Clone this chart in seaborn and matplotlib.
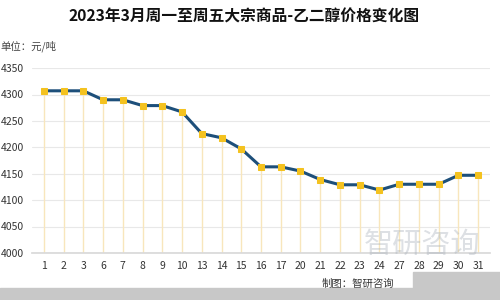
import matplotlib
matplotlib.use("Agg")
import matplotlib.pyplot as plt
import seaborn as sns
import pandas as pd
import numpy as np
from matplotlib.patches import Rectangle

days = ["1", "2", "3", "6", "7", "8", "9", "10", "13", "14", "15", "16", "17",
        "20", "21", "22", "23", "24", "27", "28", "29", "30", "31"]
prices = [4307, 4307, 4307, 4290, 4290, 4279, 4279, 4267, 4226, 4218, 4197,
          4163, 4163, 4155, 4139, 4129, 4129, 4119, 4130, 4130, 4130, 4147, 4147]
yticks = [4000, 4050, 4100, 4150, 4200, 4250, 4300, 4350]

sns.set_theme(style="white")
plt.rcParams['font.family'] = ['Noto Sans CJK SC', 'DejaVu Sans']

df = pd.DataFrame({"idx": np.arange(len(days)), "day": days, "price": prices})

fig = plt.figure(figsize=(5, 3), dpi=100)
ax = fig.add_axes([0.064, 0.157, 0.916, 0.616])

ax.vlines(df["idx"], yticks[0], df["price"], color="#f8e6bc", lw=1.0, zorder=1)
sns.lineplot(data=df, x="idx", y="price", ax=ax, color="#1d4f7a", lw=2.2,
             marker="s", markersize=5, markerfacecolor="#f4c21f",
             markeredgecolor="#f4c21f", zorder=3)

ax.set_ylim(yticks[0], yticks[-1])
ax.set_xlim(-0.6, len(days) - 1 + 0.6)
ax.set_yticks(yticks)
ax.set_yticklabels([str(v) for v in yticks], fontsize=7.5, color="#333333")
ax.set_xticks(df["idx"])
ax.set_xticklabels(days, fontsize=7.5, color="#333333")
ax.tick_params(axis="both", length=0, pad=6)
ax.grid(axis="y", color="#e8e8e8", lw=0.8)
ax.set_axisbelow(True)
for s in ["top", "right", "left"]:
    ax.spines[s].set_visible(False)
ax.spines["bottom"].set_color("#d9d9d9")
ax.set_xlabel("")
ax.set_ylabel("")

fig.text(0.488, 0.945, "2023年3月周一至周五大宗商品-乙二醇价格变化图", ha="center",
         va="center", fontsize=11.3, fontweight="bold", color="#111111")
fig.text(0.0, 0.847, "单位：元/吨", ha="left", va="center", fontsize=7.5, color="#444444")

# watermark
fig.text(0.845, 0.185, "智研咨询", ha="center", va="center", fontsize=21,
         color="#aab2bc", alpha=0.4)
fig.text(0.715, 0.055, "制图：智研咨询", ha="center", va="center",
         fontsize=7.5, color="#333333")

# bottom gray band artefact
fig.patches.append(Rectangle((0, 0), 1, 0.04, transform=fig.transFigure,
                             color="#c8c8c8", zorder=5))
fig.patches.append(Rectangle((0.826, 0), 0.174, 0.093, transform=fig.transFigure,
                             color="#c8c8c8", zorder=5))

fig.savefig("out.png", dpi=100)
